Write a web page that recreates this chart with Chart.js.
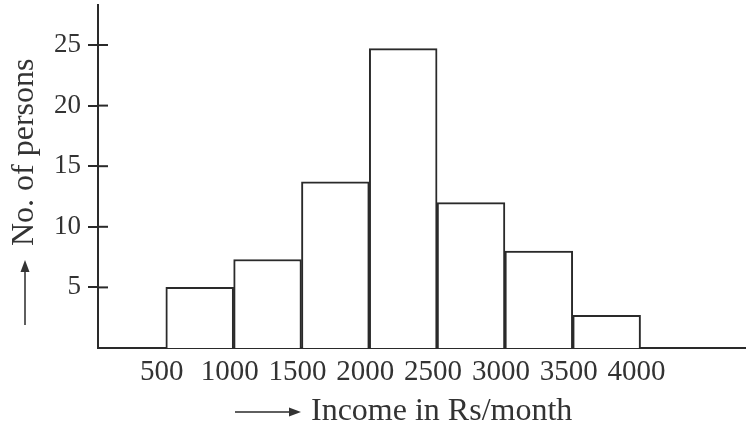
<!DOCTYPE html>
<html>
<head>
<meta charset="utf-8">
<script src="https://cdn.jsdelivr.net/npm/chart.js@4.4.1/dist/chart.umd.min.js"></script>
<style>
  html, body { margin: 0; padding: 0; background: #fff; }
  #wrap { width: 746px; height: 435px; }
</style>
</head>
<body>
<div id="wrap"><canvas id="histChart"></canvas></div>
<script>
// income classes (Rs/month), lower edge of each class
const binStarts = [500, 1000, 1500, 2000, 2500, 3000, 3500];
const binWidth = 500;
// number of persons in each class
const persons = [5, 7.3, 13.7, 24.7, 12, 8, 2.7];
const xTickValues = [500, 1000, 1500, 2000, 2500, 3000, 3500, 4000];
const yTickValues = [5, 10, 15, 20, 25];
const xTitle = "Income in Rs/month";
const yTitle = "No. of persons";

const ink = "#2a2a2a";
const font = "Liberation Serif";

// bars centred in their class
const points = binStarts.map((s, i) => ({ x: s + binWidth / 2, y: persons[i] }));

// arrows + titles, and the short tick marks on the inner side of y axis
const decor = {
  id: "decor",
  afterDraw(chart) {
    const ctx = chart.ctx;
    const area = chart.chartArea;
    const y = chart.scales.y;
    ctx.save();
    ctx.strokeStyle = ink;
    ctx.lineWidth = 2;
    yTickValues.forEach(v => {
      const py = y.getPixelForValue(v);
      ctx.beginPath();
      ctx.moveTo(area.left, py);
      ctx.lineTo(area.left + 10, py);
      ctx.stroke();
    });

    ctx.fillStyle = "#333";
    ctx.font = "32px '" + font + "'";
    ctx.textBaseline = "middle";

    // x title with arrow
    const tx = 311, ty = 412;
    ctx.textAlign = "left";
    ctx.fillText(xTitle, tx, ty);
    ctx.lineWidth = 1.5;
    ctx.beginPath();
    ctx.moveTo(235, ty);
    ctx.lineTo(298, ty);
    ctx.stroke();
    ctx.beginPath();
    ctx.moveTo(301, ty);
    ctx.lineTo(289, ty - 4.5);
    ctx.lineTo(289, ty + 4.5);
    ctx.closePath();
    ctx.fill();

    // y title with arrow (rotated)
    ctx.translate(25, 0);
    ctx.rotate(-Math.PI / 2);
    ctx.textAlign = "left";
    ctx.fillText(yTitle, -246, 0);
    ctx.beginPath();
    ctx.moveTo(-325, 0);
    ctx.lineTo(-263, 0);
    ctx.stroke();
    ctx.beginPath();
    ctx.moveTo(-260, 0);
    ctx.lineTo(-272, -4.5);
    ctx.lineTo(-272, 4.5);
    ctx.closePath();
    ctx.fill();
    ctx.restore();
  }
};

const ctx = document.getElementById("histChart").getContext("2d");
new Chart(ctx, {
  type: "bar",
  data: {
    datasets: [
      {
        data: points,
        backgroundColor: "#fff",
        borderColor: ink,
        borderWidth: 2,
        borderSkipped: "bottom",
        barPercentage: 1,
        categoryPercentage: 1,
      },
    ],
  },
  options: {
    responsive: true,
    maintainAspectRatio: false,
    animation: false,
    layout: { padding: { top: 5, right: 1, left: 0, bottom: 0 } },
    plugins: {
      legend: { display: false },
      tooltip: { enabled: false },
    },
    scales: {
      x: {
        type: "linear",
        offset: false,
        min: 0,
        max: 4770,
        afterBuildTicks: (s) => { s.ticks = xTickValues.map(v => ({ value: v })); },
        afterFit: (s) => { s.height = 87; s.paddingLeft = 0; s.paddingRight = 0; },
        ticks: {
          color: "#333",
          font: { family: font, size: 29 },
          padding: 7,
          labelOffset: -4,
          maxRotation: 0,
          autoSkip: false,
          callback: (v) => String(v),
        },
        grid: { display: true, drawOnChartArea: false, drawTicks: false, color: "rgba(0,0,0,0)" },
        border: { display: true, color: ink, width: 2 },
      },
      y: {
        min: 0,
        max: 28.3,
        afterBuildTicks: (s) => { s.ticks = yTickValues.map(v => ({ value: v })); },
        afterFit: (s) => { s.width = 98; s.paddingTop = 0; s.paddingBottom = 0; },
        ticks: {
          color: "#333",
          font: { family: font, size: 27 },
          padding: 7,
        },
        grid: { drawOnChartArea: false, drawTicks: true, tickLength: 10, color: ink, lineWidth: 2 },
        border: { display: true, color: ink, width: 2 },
      },
    },
  },
  plugins: [decor],
});
</script>
</body>
</html>
